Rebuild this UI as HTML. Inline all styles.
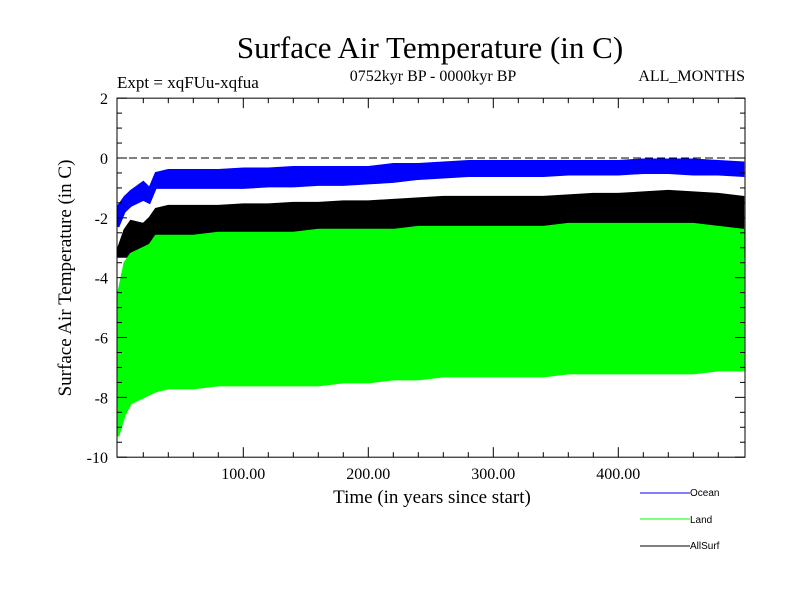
<!DOCTYPE html>
<html><head><meta charset="utf-8"><style>
body{margin:0;background:#fff;}
svg text{font-family:"Liberation Serif",serif;}
</style></head><body>
<svg id="c" width="800" height="600">
<text x="430" y="58" font-size="31" text-anchor="middle">Surface Air Temperature (in C)</text>
<text x="117" y="88" font-size="17">Expt = xqFUu-xqfua</text>
<text x="433" y="81" font-size="16" text-anchor="middle">0752kyr BP - 0000kyr BP</text>
<text x="745" y="81" font-size="16" text-anchor="end">ALL_MONTHS</text>
<text x="432" y="503" font-size="19" text-anchor="middle">Time (in years since start)</text>
<text transform="translate(71,278) rotate(-90)" font-size="19" text-anchor="middle">Surface Air Temperature (in C)</text>
<g id="plot"></g>
<g id="axes"></g>
<g font-size="10">
<g><line x1="640" y1="493" x2="690" y2="493" stroke="#0000ff"/><text x="690" y="496" style="font-family:'Liberation Sans',sans-serif">Ocean</text></g>
<g><line x1="640" y1="519" x2="690" y2="519" stroke="#00ff00"/><text x="690" y="523" style="font-family:'Liberation Sans',sans-serif">Land</text></g>
<g><line x1="640" y1="546" x2="690" y2="546" stroke="#000"/><text x="690" y="549" style="font-family:'Liberation Sans',sans-serif">AllSurf</text></g>
</g>
</svg>
<script>
const years=[0,5,10,20,25,30,40,60,80,100,120,140,160,180,200,220,240,260,280,300,320,340,360,380,400,420,440,460,480,500];
const oceanLow=[-2.3,-1.8,-1.6,-1.4,-1.5,-1.0,-1.0,-1.0,-1.0,-1.0,-0.95,-0.95,-0.9,-0.9,-0.85,-0.8,-0.7,-0.65,-0.6,-0.6,-0.6,-0.6,-0.55,-0.55,-0.55,-0.5,-0.5,-0.55,-0.55,-0.6];
const oceanHigh=[-1.6,-1.3,-1.1,-0.8,-1.0,-0.5,-0.4,-0.4,-0.4,-0.35,-0.35,-0.3,-0.3,-0.3,-0.3,-0.2,-0.2,-0.15,-0.1,-0.1,-0.1,-0.1,-0.1,-0.1,-0.1,-0.05,-0.05,-0.05,-0.1,-0.15];
const allsurfHigh=[-3.0,-2.4,-2.1,-2.2,-2.0,-1.7,-1.6,-1.6,-1.6,-1.55,-1.55,-1.5,-1.5,-1.45,-1.45,-1.4,-1.35,-1.3,-1.3,-1.3,-1.3,-1.3,-1.25,-1.2,-1.2,-1.15,-1.1,-1.15,-1.2,-1.3];
const landHigh=[-4.5,-3.5,-3.2,-3.0,-2.9,-2.6,-2.6,-2.6,-2.5,-2.5,-2.5,-2.5,-2.4,-2.4,-2.4,-2.4,-2.3,-2.3,-2.3,-2.3,-2.3,-2.3,-2.2,-2.2,-2.2,-2.2,-2.2,-2.2,-2.3,-2.4];
const landLow=[-9.3,-8.6,-8.2,-8.0,-7.9,-7.8,-7.7,-7.7,-7.6,-7.6,-7.6,-7.6,-7.6,-7.5,-7.5,-7.4,-7.4,-7.3,-7.3,-7.3,-7.3,-7.3,-7.2,-7.2,-7.2,-7.2,-7.2,-7.2,-7.1,-7.1];
const yTicks=[2,0,-2,-4,-6,-8,-10];
const xTicks=[100,200,300,400];
const xLabels=["100.00","200.00","300.00","400.00"];
const X=v=>118.3+v*1.25, Y=v=>158-v*29.92;
const NS="http://www.w3.org/2000/svg";
const plot=document.getElementById('plot'), axes=document.getElementById('axes');
function mk(tag,attrs,parent){const e=document.createElementNS(NS,tag);for(const k in attrs)e.setAttribute(k,attrs[k]);parent.appendChild(e);return e;}
function band(lo,hi,col,name){
 let d='M'+years.map((t,i)=>X(t)+','+Y(hi[i])).join(' L');
 d+=' L'+years.slice().reverse().map((t,j)=>{const i=years.length-1-j;return X(t)+','+Y(lo[i]);}).join(' L')+'Z';
 const p=mk('path',{d:d,fill:col,stroke:col,'stroke-width':2},plot);
 
 
}
const clipMin=years.map(()=>-3.3);
band(oceanLow,oceanHigh,'#0000ff','ocean-series');
band(clipMin,allsurfHigh,'#000000','allsurf-series');
band(landLow,landHigh,'#00ff00','land-series');
const zl=mk('line',{x1:117,x2:745,y1:Y(0),y2:Y(0),stroke:'#000','stroke-dasharray':'8,4'},axes);


const fr=mk('rect',{x:117,y:Y(2),width:628,height:Y(-10)-Y(2),fill:'none',stroke:'#000','stroke-width':1},axes);


for(let v=-10;v<=2;v+=0.5){const l=(v%2===0)?10:5;
 mk('line',{x1:117,x2:117+l,y1:Y(v),y2:Y(v),stroke:'#000'},axes);
 mk('line',{x1:745,x2:745-l,y1:Y(v),y2:Y(v),stroke:'#000'},axes);}
for(let t=20;t<500;t+=20){const l=(t%100===0)?10:5;
 mk('line',{x1:X(t),x2:X(t),y1:Y(-10),y2:Y(-10)-l,stroke:'#000'},axes);
 mk('line',{x1:X(t),x2:X(t),y1:Y(2),y2:Y(2)+l,stroke:'#000'},axes);}
yTicks.forEach(v=>{const t=mk('text',{x:108,y:Y(v)+6,'font-size':16,'text-anchor':'end'},axes);t.textContent=v;
 
 });
xTicks.forEach((v,i)=>{const t=mk('text',{x:X(v),y:479,'font-size':16,'text-anchor':'middle'},axes);t.textContent=xLabels[i];
 
 });
</script>
</body></html>
